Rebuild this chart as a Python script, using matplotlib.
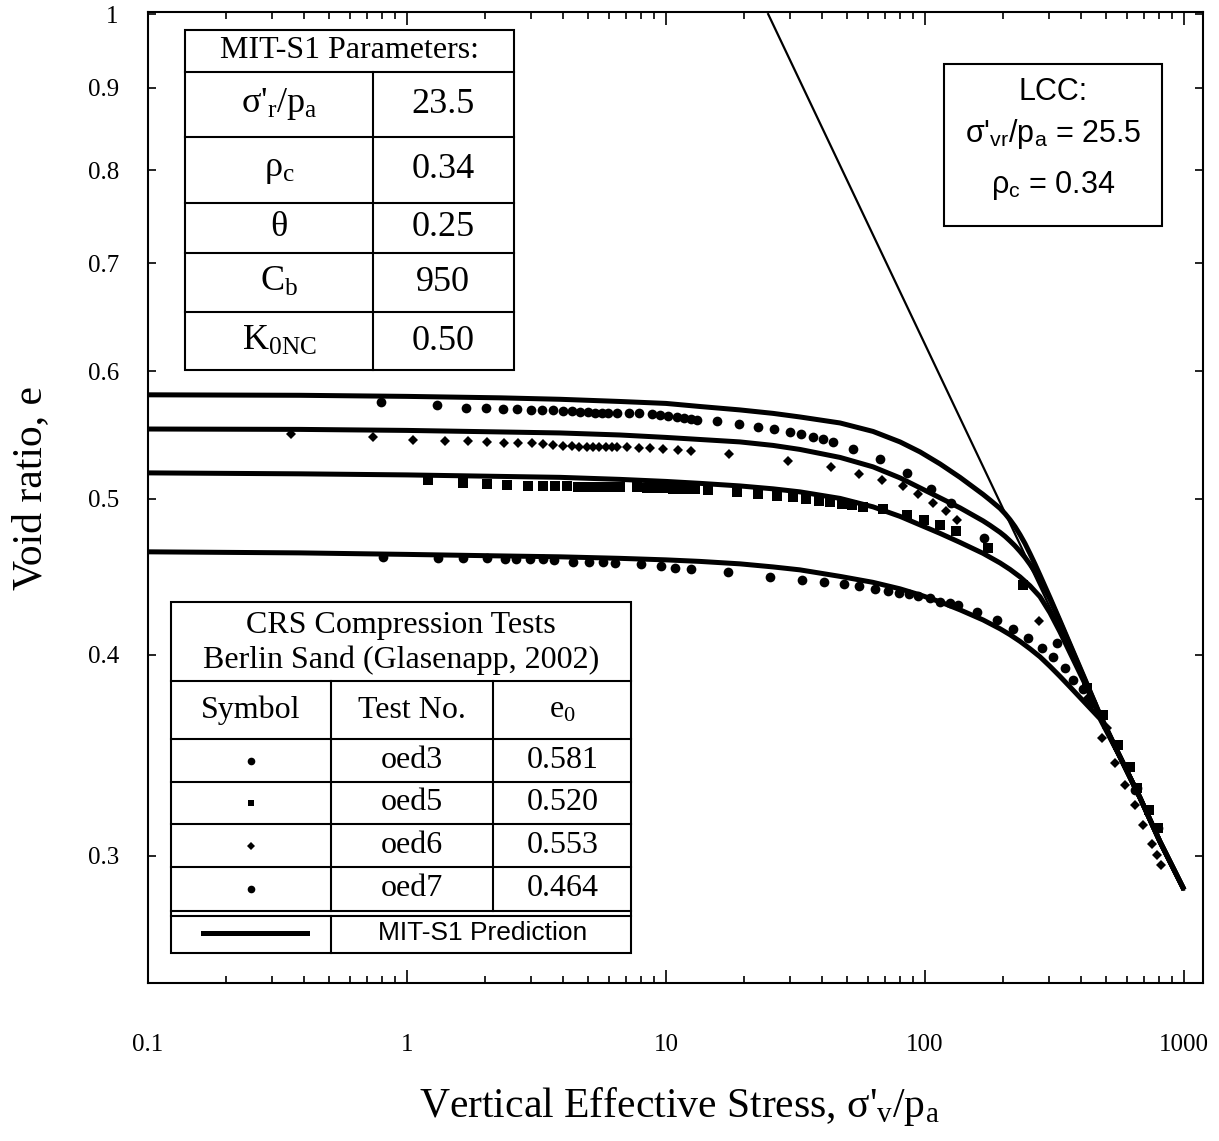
import numpy as np
import matplotlib.pyplot as plt
from matplotlib.lines import Line2D
from matplotlib.patches import Rectangle
from matplotlib.ticker import FixedLocator, NullLocator, LogLocator, FuncFormatter

plt.rcParams['font.family'] = ['Liberation Serif', 'DejaVu Serif']
plt.rcParams['mathtext.fontset'] = 'custom'
plt.rcParams['mathtext.rm'] = 'Liberation Serif'
plt.rcParams['mathtext.sf'] = 'Liberation Sans'
plt.rcParams['mathtext.it'] = 'Liberation Serif:italic'

# ---- measured data (CRS tests, Berlin sand) ----
oed3_s = [0.792, 1.302, 1.690, 2.018, 2.342, 2.667, 3.004, 3.313, 3.646, 3.992, 4.324, 4.656,
          5.012, 5.319, 5.646, 5.987, 6.450, 7.218, 7.886, 8.808, 9.480, 10.21, 11.00, 11.73,
          12.46, 13.14, 15.70, 19.14, 22.72, 26.19, 30.11, 33.13, 36.85, 40.27, 44.01, 52.87,
          66.87, 85.44, 105.9, 125.5, 169.7, 322.5, 549.8, 656.9, 793.6]
oed3_e = [0.5740, 0.5717, 0.5695, 0.5695, 0.5684, 0.5684, 0.5674, 0.5674, 0.5674, 0.5668, 0.5668,
          0.5662, 0.5657, 0.5654, 0.5654, 0.5654, 0.5649, 0.5649, 0.5649, 0.5641, 0.5635, 0.5630,
          0.5622, 0.5614, 0.5603, 0.5595, 0.5590, 0.5561, 0.5537, 0.5521, 0.5500, 0.5482, 0.5457,
          0.5441, 0.5420, 0.5368, 0.5292, 0.5184, 0.5072, 0.4965, 0.4723, 0.4066, 0.3515, 0.3305,
          0.3121]

oed5_s = [1.208, 1.641, 2.031, 2.426, 2.924, 3.360, 3.728, 4.137, 4.573, 4.941, 5.227, 5.562,
          5.902, 6.242, 6.643, 7.707, 8.424, 9.206, 9.911, 10.64, 11.50, 12.38, 12.94, 14.57,
          18.85, 22.72, 26.90, 31.00, 34.71, 39.07, 42.97, 47.70, 52.12, 57.79, 69.02, 84.97,
          99.11, 114.6, 131.2, 175.5, 239.7, 421.0, 488.0, 557.7, 618.8, 660.4, 734.5, 795.8]
oed5_e = [0.5136, 0.5112, 0.5105, 0.5099, 0.5094, 0.5094, 0.5092, 0.5087, 0.5082, 0.5082, 0.5082,
          0.5082, 0.5082, 0.5082, 0.5082, 0.5082, 0.5079, 0.5075, 0.5075, 0.5070, 0.5070, 0.5070,
          0.5068, 0.5063, 0.5044, 0.5034, 0.5015, 0.5010, 0.4996, 0.4984, 0.4972, 0.4963, 0.4955,
          0.4943, 0.4924, 0.4885, 0.4850, 0.4811, 0.4770, 0.4657, 0.4419, 0.3813, 0.3669, 0.3515,
          0.3407, 0.3304, 0.3203, 0.3120]

oed6_s = [0.3565, 0.741, 1.052, 1.402, 1.724, 2.031, 2.375, 2.676, 3.030, 3.336, 3.652, 3.992,
          4.324, 4.614, 4.941, 5.241, 5.527, 5.866, 6.171, 6.486, 7.090, 7.886, 8.675, 9.763,
          11.16, 12.49, 17.55, 29.66, 43.36, 55.76, 68.05, 82.03, 93.71, 107.8, 120.0, 132.9,
          275.5, 425.9, 481.1, 504.3, 541.5, 591.9, 647.0, 696.5, 750.5, 784.5, 812.8]
oed6_e = [0.5484, 0.5463, 0.5437, 0.5429, 0.5429, 0.5424, 0.5416, 0.5416, 0.5411, 0.5404, 0.5398,
          0.5391, 0.5391, 0.5385, 0.5385, 0.5385, 0.5385, 0.5385, 0.5381, 0.5381, 0.5381, 0.5378,
          0.5373, 0.5366, 0.5361, 0.5355, 0.5330, 0.5279, 0.5229, 0.5180, 0.5136, 0.5087, 0.5034,
          0.4967, 0.4910, 0.4850, 0.4195, 0.3760, 0.3549, 0.3601, 0.3425, 0.3319, 0.3226, 0.3134,
          0.3050, 0.3002, 0.2960]

oed7_s = [0.810, 1.321, 1.650, 2.031, 2.389, 2.636, 2.985, 3.342, 3.695, 4.386, 5.057, 5.696,
          6.355, 8.008, 9.539, 10.86, 12.46, 17.40, 25.20, 33.42, 40.63, 48.55, 55.70, 64.12,
          72.17, 79.59, 87.00, 94.21, 104.5, 114.3, 124.9, 134.5, 158.4, 190.2, 219.2, 250.4,
          282.3, 312.0, 347.2, 374.4, 407.4, 441.4, 647.0]
oed7_e = [0.4602, 0.4595, 0.4591, 0.4591, 0.4587, 0.4587, 0.4585, 0.4585, 0.4580, 0.4569, 0.4565,
          0.4563, 0.4559, 0.4553, 0.4537, 0.4526, 0.4520, 0.4498, 0.4472, 0.4453, 0.4440, 0.4422,
          0.4411, 0.4392, 0.4381, 0.4371, 0.4361, 0.4350, 0.4336, 0.4315, 0.4305, 0.4294, 0.4253,
          0.4203, 0.4148, 0.4095, 0.4036, 0.3987, 0.3923, 0.3858, 0.3809, 0.3733, 0.3296]

# ---- MIT-S1 predictions ----
mit3_s = [0.1, 0.386, 1.0, 2.29, 3.90, 6.64, 10.0, 13.5, 19.3, 25.9, 32.9, 47.0, 63.0, 80.1,
          95.7, 114.3, 136.5, 167.5, 178.2, 194.9, 203.7, 212.9, 222.6, 232.7, 243.3, 254.3,
          265.9, 277.9, 303.8, 331.9, 362.9, 414.7, 473.9, 566.2, 676.1, 807.8, 1000]
mit3_e = [0.5800, 0.5796, 0.5787, 0.5775, 0.5763, 0.5745, 0.5729, 0.5704, 0.5676, 0.5648, 0.5619,
          0.5571, 0.5504, 0.5422, 0.5345, 0.5254, 0.5154, 0.5030, 0.4990, 0.4930, 0.4893, 0.4851,
          0.4803, 0.4748, 0.4688, 0.4621, 0.4552, 0.4481, 0.4339, 0.4199, 0.4060, 0.3861, 0.3669,
          0.3455, 0.3259, 0.3060, 0.2857]
mit6_s = mit3_s
mit6_e = [0.5523, 0.5520, 0.5512, 0.5500, 0.5492, 0.5476, 0.5457, 0.5441, 0.5422, 0.5395, 0.5364,
          0.5303, 0.5232, 0.5150, 0.5077, 0.5005, 0.4934, 0.4843, 0.4812, 0.4764, 0.4737, 0.4706,
          0.4673, 0.4636, 0.4596, 0.4551, 0.4502, 0.4448, 0.4329, 0.4191, 0.4053, 0.3855, 0.3669,
          0.3455, 0.3259, 0.3060, 0.2857]
mit5_s = [0.1, 0.386, 1.0, 2.29, 3.90, 6.64, 10.0, 13.5, 19.3, 25.9, 32.9, 47.0, 63.0, 80.1,
          95.7, 114.3, 136.5, 167.5, 194.9, 212.9, 232.7, 254.3, 277.9, 303.8, 331.9, 362.9,
          414.7, 473.9, 566.2, 676.1, 807.8, 1000]
mit5_e = [0.5187, 0.5180, 0.5172, 0.5161, 0.5154, 0.5139, 0.5124, 0.5110, 0.5091, 0.5070, 0.5048,
          0.5001, 0.4941, 0.4874, 0.4815, 0.4757, 0.4696, 0.4623, 0.4560, 0.4518, 0.4470, 0.4413,
          0.4345, 0.4246, 0.4132, 0.4010, 0.3836, 0.3659, 0.3455, 0.3259, 0.3060, 0.2857]
mit7_s = mit5_s
mit7_e = [0.4633, 0.4626, 0.4616, 0.4606, 0.4600, 0.4590, 0.4580, 0.4570, 0.4554, 0.4534, 0.4515,
          0.4473, 0.4435, 0.4394, 0.4356, 0.4313, 0.4264, 0.4203, 0.4150, 0.4115, 0.4076, 0.4033,
          0.3987, 0.3933, 0.3877, 0.3819, 0.3733, 0.3649, 0.3455, 0.3259, 0.3060, 0.2857]

# limiting compression curve
lcc_s = [24.8, 1000]
lcc_e = [1.0, 0.2857]

y_ticks = [0.3, 0.4, 0.5, 0.6, 0.7, 0.8, 0.9, 1.0]

param_names = ["σ'$_{\\mathrm{r}}$/p$_{\\mathrm{a}}$", "ρ$_{\\mathrm{c}}$", "θ",
               "C$_{\\mathrm{b}}$", "K$_{\\mathrm{0NC}}$"]
param_values = ['23.5', '0.34', '0.25', '950', '0.50']
tests = ['oed3', 'oed5', 'oed6', 'oed7']
e0_values = ['0.581', '0.520', '0.553', '0.464']
test_markers = ['o', 's', 'D', 'o']

W, H = 1219, 1141
fig = plt.figure(figsize=(W / 100, H / 100), dpi=100)
ax = fig.add_axes([148 / W, 1 - 983 / H, (1203 - 148) / W, (983 - 12) / H])
ax.set_xscale('log')
ax.set_yscale('log')

for s, e in [(mit3_s, mit3_e), (mit6_s, mit6_e), (mit5_s, mit5_e), (mit7_s, mit7_e)]:
    ax.plot(s, e, color='black', lw=3.6, solid_capstyle='butt', solid_joinstyle='round', zorder=3)
ax.plot(lcc_s, lcc_e, color='black', lw=1.6, zorder=2)

ax.plot(oed3_s, oed3_e, 'o', color='black', ms=7, mew=0, zorder=4)
ax.plot(oed5_s, oed5_e, 's', color='black', ms=6.5, mew=0, zorder=4)
ax.plot(oed6_s, oed6_e, 'D', color='black', ms=5.2, mew=0, zorder=4)
ax.plot(oed7_s, oed7_e, 'o', color='black', ms=7, mew=0, zorder=4)

ax.set_xlim(0.1, 1184)
ax.set_ylim(0.25, 1.003)

ax.xaxis.set_major_locator(LogLocator(base=10, numticks=12))
ax.xaxis.set_minor_locator(LogLocator(base=10, subs=np.arange(2, 10), numticks=12))
ax.xaxis.set_major_formatter(FuncFormatter(lambda v, p: '%g' % v))
ax.yaxis.set_major_locator(FixedLocator(y_ticks))
ax.yaxis.set_minor_locator(NullLocator())
ax.yaxis.set_major_formatter(FuncFormatter(lambda v, p: '%g' % v))

ax.tick_params(which='both', direction='in', top=True, right=True, width=1.2, labelsize=18)
ax.tick_params(axis='x', which='major', length=9.5, pad=37)
ax.tick_params(axis='x', which='minor', length=5)
ax.tick_params(axis='y', which='major', length=6, pad=21)
for sp in ax.spines.values():
    sp.set_linewidth(1.5)

ax.set_xlabel("Vertical Effective Stress, σ'$_{\\mathrm{v}}$/p$_{\\mathrm{a}}$", fontsize=30)
ax.xaxis.set_label_coords(0.504, -0.105)
ax.set_ylabel('Void ratio, e', fontsize=30)
ax.yaxis.set_label_coords(-0.093, 0.51)


# ---- helpers for the inset tables (pixel positions) ----
def fx(px):
    return px / W


def fy(py):
    return 1 - py / H


def box(x0, y0, x1, y1, lw=1.5):
    fig.add_artist(Rectangle((fx(x0), fy(y1)), fx(x1) - fx(x0), fy(y0) - fy(y1),
                             transform=fig.transFigure, facecolor='white', edgecolor='black', lw=lw))


def hline(x0, x1, y, lw=1.5):
    fig.add_artist(Line2D([fx(x0), fx(x1)], [fy(y), fy(y)], color='black', lw=lw))


def vline(x, y0, y1, lw=1.5):
    fig.add_artist(Line2D([fx(x), fx(x)], [fy(y0), fy(y1)], color='black', lw=lw))


def txt(x, y, s, size=23, **kw):
    fig.text(fx(x), fy(y), s, ha='center', va='center', fontsize=size, **kw)


# MIT-S1 parameter table
box(185, 30, 514, 370)
rows = [72, 137, 203, 253, 312, 370]
for r in rows[:-1]:
    hline(185, 514, r)
vline(373, 72, 370)
txt(349, 51, 'MIT-S1 Parameters:', size=23)
for i, (n, v) in enumerate(zip(param_names, param_values)):
    yc = (rows[i] + rows[i + 1]) / 2
    txt(279, yc, n, size=26)
    txt(443, yc, v, size=26)

# LCC box
box(944, 64, 1162, 226)
sans = ['Liberation Sans', 'DejaVu Sans']
txt(1053, 92, 'LCC:', size=22, family=sans)
txt(1053, 134, "σ'$_{\\mathsf{vr}}$/p$_{\\mathsf{a}}$ = 25.5", size=22, family=sans)
txt(1053, 185, "ρ$_{\\mathsf{c}}$ = 0.34", size=22, family=sans)

# CRS test legend table
box(171, 602, 631, 953)
for r in [681, 739, 782, 824, 867, 911, 916]:
    hline(171, 631, r)
vline(331, 681, 911)
vline(493, 681, 911)
vline(331, 916, 953)
txt(401, 625, 'CRS Compression Tests')
txt(401, 660, 'Berlin Sand (Glasenapp, 2002)')
txt(251, 710, 'Symbol')
txt(412, 710, 'Test No.')
txt(562, 710, 'e$_{\\mathrm{0}}$')
row_c = [760.5, 803, 845.5, 889]
for yc, m, t, e0 in zip(row_c, test_markers, tests, e0_values):
    ms = 5.5 if m == 'o' else (5 if m == 's' else 4.5)
    fig.add_artist(Line2D([fx(251)], [fy(yc)], marker=m, ms=ms, color='black', mew=0))
    txt(412, yc, t)
    txt(563, yc, e0)
fig.add_artist(Line2D([fx(203), fx(307)], [fy(933), fy(933)], color='black', lw=3.6))
txt(483, 933, 'MIT-S1 Prediction', size=19, family=sans)

fig.savefig('out.png', dpi=100)
